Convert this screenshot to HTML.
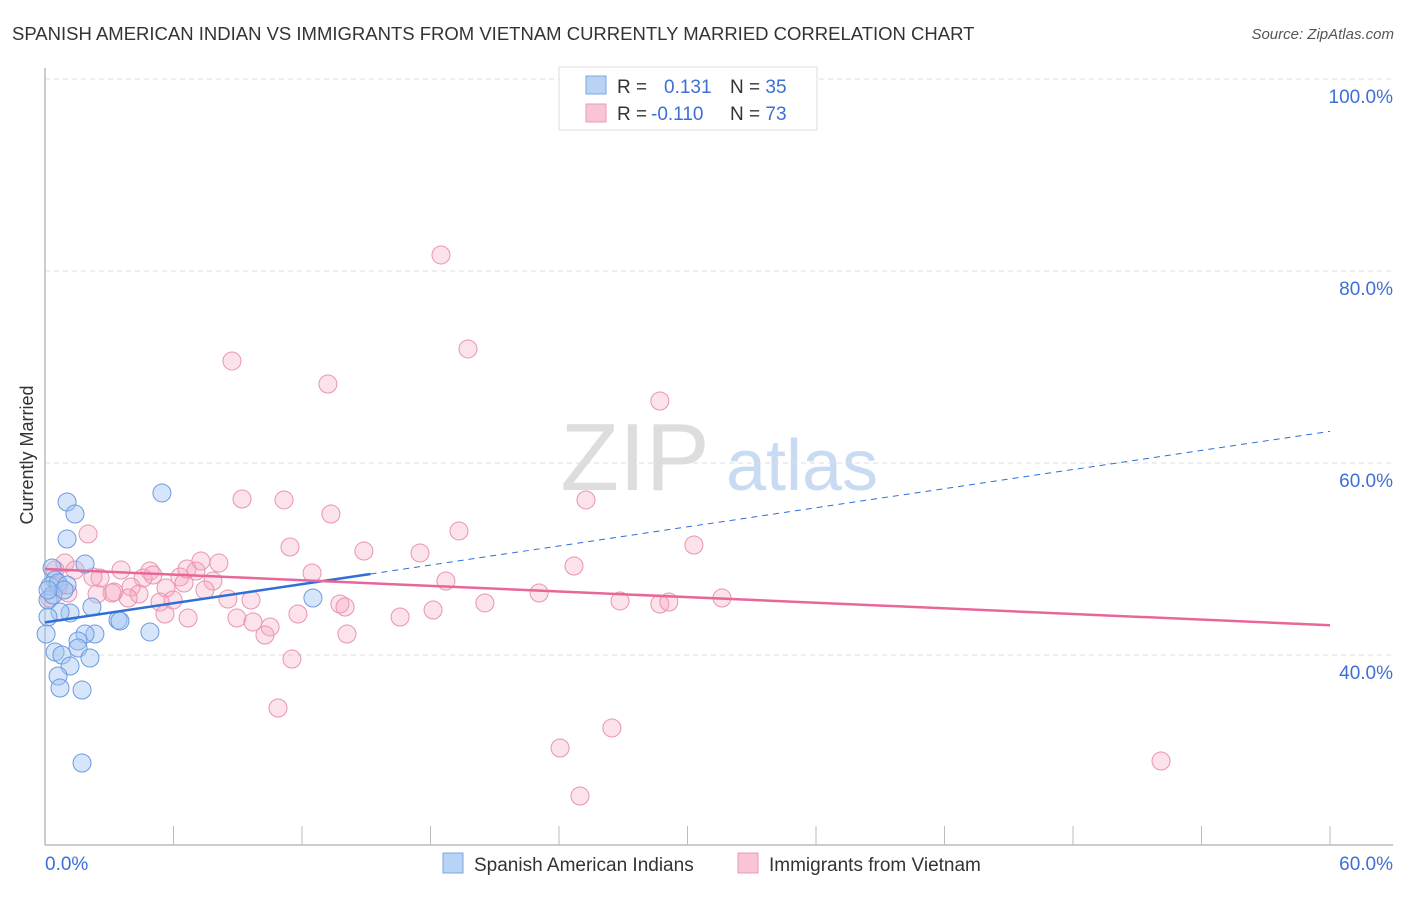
<!DOCTYPE html>
<html><head><meta charset="utf-8"><style>
body{margin:0;background:#fff;font-family:"Liberation Sans",sans-serif;}
svg text{font-family:"Liberation Sans",sans-serif;}
</style></head><body>
<svg width="1406" height="892">
<text x="12" y="40" font-size="18.5" fill="#333">SPANISH AMERICAN INDIAN VS IMMIGRANTS FROM VIETNAM CURRENTLY MARRIED CORRELATION CHART</text>
<text x="1394" y="39" font-size="15" fill="#555" font-style="italic" text-anchor="end">Source: ZipAtlas.com</text>
<text x="33" y="455" font-size="18" fill="#333" text-anchor="middle" transform="rotate(-90 33 455)">Currently Married</text>
<g>
<text x="635" y="490" font-size="96" fill="#ddd" font-family="Liberation Serif,serif" text-anchor="middle">ZIP</text>
<text x="802" y="490" font-size="72" fill="#c9dbf3" text-anchor="middle">atlas</text>
</g>
<g id="grid"></g>
<g id="axes"></g>
<g id="marks"></g>
<g>
<rect x="559" y="67" width="258" height="63" fill="#fff" stroke="#ddd"/>
<rect x="586" y="76" width="20" height="18" fill="#b9d3f5" stroke="#7ea7e0"/>
<rect x="586" y="104" width="20" height="18" fill="#f9c5d4" stroke="#eb9ab3"/>
<text x="617" y="93" font-size="19" fill="#333">R = <tspan fill="#3d6fd6" x="664">0.131</tspan><tspan x="730" fill="#333">N = </tspan><tspan fill="#3d6fd6">35</tspan></text>
<text x="617" y="120" font-size="19" fill="#333">R = <tspan fill="#3d6fd6" x="651">-0.110</tspan><tspan x="730" fill="#333">N = </tspan><tspan fill="#3d6fd6">73</tspan></text>
</g>
<g>
<rect x="443" y="853" width="20" height="20" fill="#b9d3f5" stroke="#7ea7e0"/>
<text x="474" y="871" font-size="19" fill="#333">Spanish American Indians</text>
<rect x="738" y="853" width="20" height="20" fill="#f9c5d4" stroke="#eb9ab3"/>
<text x="769" y="871" font-size="19" fill="#333">Immigrants from Vietnam</text>
</g>
</svg>
<script>
const xTicks=[0,60];
const yTicks=[40,60,80,100];
const blueX=[1.03,1.40,5.46,1.03,1.87,0.33,0.47,0.23,0.61,1.03,0.14,2.19,1.17,0.70,0.14,3.41,4.90,2.33,1.87,0.05,1.54,0.47,1.54,0.79,2.10,1.17,0.61,0.70,1.73,12.51,1.73,0.37,0.89,0.14,3.50];
const blueY=[55.94,54.69,56.88,52.08,49.48,49.06,47.81,47.19,47.50,47.29,45.73,45.00,44.38,44.48,43.96,43.65,42.40,42.19,42.19,42.19,41.46,40.31,40.73,40.00,39.69,38.85,37.81,36.56,36.35,45.94,28.75,46.25,46.77,46.77,43.54];
const pinkX=[18.49,8.73,19.75,13.21,28.71,9.20,11.16,25.26,13.35,2.01,19.33,11.44,14.89,17.51,30.30,0.93,1.40,7.28,8.12,3.55,4.90,6.30,2.57,2.24,0.65,1.07,0.47,5.04,4.58,12.47,24.70,18.72,7.84,6.49,4.02,3.22,4.39,6.63,7.05,7.47,5.65,3.88,3.13,2.43,5.37,5.98,8.54,9.62,13.77,14.01,20.54,23.07,26.85,28.71,29.13,31.61,11.81,5.60,6.68,8.96,9.71,10.51,10.27,14.10,16.58,18.12,11.53,10.88,24.05,26.47,24.98,52.11,0.23];
const pinkY=[81.67,70.63,71.88,68.23,66.46,56.25,56.15,56.15,54.69,52.60,52.92,51.25,50.83,50.63,51.46,49.58,48.85,49.79,49.58,48.85,48.75,48.13,48.02,48.13,47.19,46.46,48.85,48.33,48.02,48.54,49.27,47.71,47.71,47.50,47.08,46.56,46.35,48.96,48.75,46.77,46.98,45.94,46.46,46.35,45.52,45.73,45.83,45.73,45.31,45.00,45.42,46.46,45.63,45.31,45.52,45.94,44.27,44.27,43.85,43.85,43.44,42.92,42.08,42.19,43.96,44.69,39.58,34.48,30.31,32.40,25.31,28.96,45.94];
const blueTrend=[43.4,63.3];
const pinkTrend=[48.96,43.1];
const NS='http://www.w3.org/2000/svg';
const X=v=>45+v/60*1285, Y=v=>79+(100-v)*9.6;
function mk(t,a,p){const e=document.createElementNS(NS,t);for(const k in a)e.setAttribute(k,a[k]);p.appendChild(e);return e;}
const grid=document.getElementById('grid'),axes=document.getElementById('axes'),marks=document.getElementById('marks');
yTicks.forEach(v=>{
 const l=mk('line',{x1:45,x2:1393,y1:Y(v),y2:Y(v),stroke:'#ddd','stroke-dasharray':'5,4'},grid);
 
 
 const t=mk('text',{x:1393,y:Y(v)+24,'font-size':19,fill:'#3d6fd6','text-anchor':'end'},axes);
 t.textContent=v.toFixed(1)+'%';
 
 
});
const ax=mk('line',{x1:45,x2:1393,y1:845,y2:845,stroke:'#bbb','stroke-width':1.5},axes);


const ay=mk('line',{x1:45,x2:45,y1:68,y2:845,stroke:'#bbb','stroke-width':1.5},axes);


for(let i=0;i<=10;i++){const tk=mk('line',{x1:X(i*6),x2:X(i*6),y1:826,y2:845,stroke:'#bbb'},axes);
 
 }
xTicks.forEach((v,i)=>{const t=mk('text',{x:i?1393:45,y:870,'font-size':19,fill:'#3d6fd6','text-anchor':i?'end':'start'},axes);
 t.textContent=v.toFixed(1)+'%';
 
 });
pinkX.forEach((v,i)=>{const c=mk('circle',{cx:X(v),cy:Y(pinkY[i]),r:9,fill:'rgba(246,165,190,0.32)',stroke:'#ea94ae','stroke-width':1},marks);
 
 });
blueX.forEach((v,i)=>{const c=mk('circle',{cx:X(v),cy:Y(blueY[i]),r:9,fill:'rgba(165,198,242,0.45)',stroke:'#6b9ae0','stroke-width':1},marks);
 
 });
const by=x=>blueTrend[0]+(blueTrend[1]-blueTrend[0])*x/60;
const bl=mk('line',{x1:X(0),y1:Y(by(0)),x2:X(15.2),y2:Y(by(15.2)),stroke:'#2f6fd6','stroke-width':2.5},marks);


const bd=mk('line',{x1:X(15.2),y1:Y(by(15.2)),x2:X(60),y2:Y(by(60)),stroke:'#2f6fd6','stroke-width':1,'stroke-dasharray':'6,5'},marks);


const pl=mk('line',{x1:X(0),y1:Y(pinkTrend[0]),x2:X(60),y2:Y(pinkTrend[1]),stroke:'#e8669a','stroke-width':2.5},marks);


</script>
</body></html>
